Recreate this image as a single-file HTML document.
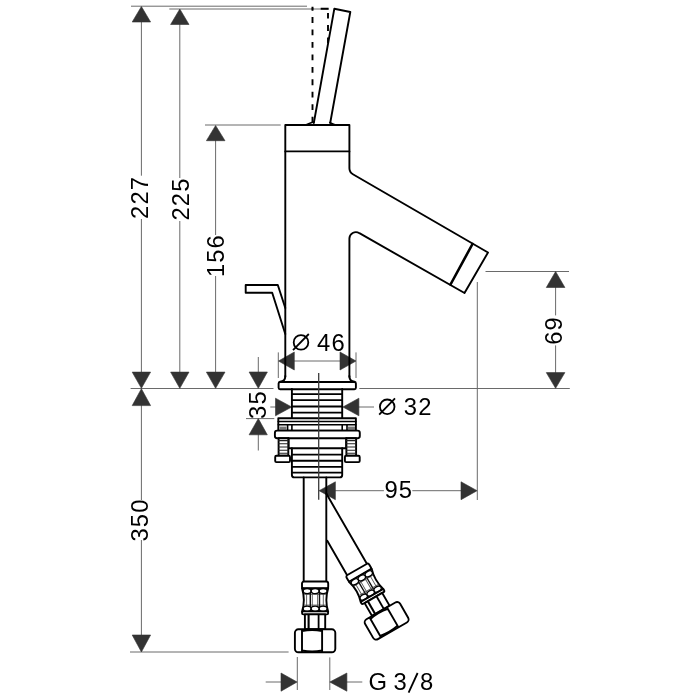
<!DOCTYPE html>
<html><head><meta charset="utf-8"><style>
html,body{margin:0;padding:0;background:#fff;width:700px;height:700px;overflow:hidden}
svg{display:block;filter:grayscale(1)}
.o{stroke:#000;stroke-width:1.9;fill:none;stroke-linejoin:round;stroke-linecap:round}
.of{stroke:#000;stroke-width:1.9;fill:#fff;stroke-linejoin:round}
.d{stroke:#6a6a6a;stroke-width:1;fill:none}
.a{fill:#333;stroke:#333;stroke-width:0.6;stroke-linejoin:miter}
.tx{font-family:"Liberation Sans",sans-serif;font-size:23.8px;fill:#000;letter-spacing:1.1px}
</style></head><body>
<svg width="700" height="700" viewBox="0 0 700 700">
<rect width="700" height="700" fill="#fff"/>
<!-- ===== dimension lines ===== -->
<g class="d">
  <!-- 227 -->
  <line x1="131" y1="6.2" x2="307" y2="6.2"/>
  <line x1="141.4" y1="20" x2="141.4" y2="175.7"/>
  <line x1="141.4" y1="219" x2="141.4" y2="374"/>
  <!-- 225 -->
  <line x1="169.3" y1="9" x2="328.6" y2="9"/>
  <line x1="179.8" y1="22" x2="179.8" y2="178"/>
  <line x1="179.8" y1="221" x2="179.8" y2="374"/>
  <!-- 156 -->
  <line x1="205" y1="125" x2="280.7" y2="125"/>
  <line x1="215.6" y1="138" x2="215.6" y2="235"/>
  <line x1="215.6" y1="276" x2="215.6" y2="374"/>
  <!-- reference line -->
  <line x1="130.6" y1="388.5" x2="273.5" y2="388.5"/>
  <line x1="359.3" y1="388.5" x2="569.8" y2="388.5"/>
  <!-- 350 -->
  <line x1="141.4" y1="403" x2="141.4" y2="500"/>
  <line x1="141.4" y1="540" x2="141.4" y2="637"/>
  <line x1="130" y1="652" x2="288.6" y2="652"/>
  <!-- 35 -->
  <line x1="258.3" y1="357" x2="258.3" y2="374"/>
  <line x1="246" y1="418.6" x2="274.3" y2="418.6"/>
  <line x1="258.3" y1="433" x2="258.3" y2="450.5"/>
  <!-- 46 -->
  <line x1="278.3" y1="352.4" x2="278.3" y2="378"/>
  <line x1="356" y1="352.4" x2="356" y2="378"/>
  <line x1="292" y1="361" x2="342" y2="361"/>
  <!-- 32 -->
  <line x1="270.3" y1="407" x2="277" y2="407"/>
  <line x1="357" y1="407" x2="374" y2="407"/>
  <!-- 69 -->
  <line x1="485.5" y1="271.5" x2="569" y2="271.5"/>
  <line x1="555.6" y1="286" x2="555.6" y2="315.4"/>
  <line x1="555.6" y1="345.4" x2="555.6" y2="374"/>
  <!-- 95 -->
  <line x1="477.3" y1="282" x2="477.3" y2="500"/>
  <line x1="333" y1="490.7" x2="383.9" y2="490.7"/>
  <line x1="412.3" y1="490.7" x2="463" y2="490.7"/>
  <!-- G 3/8 -->
  <line x1="297.3" y1="657" x2="297.3" y2="690"/>
  <line x1="329.8" y1="657.4" x2="329.8" y2="690"/>
  <line x1="265.7" y1="682" x2="283" y2="682"/>
  <line x1="345" y1="682" x2="362.3" y2="682"/>
</g>
<!-- ===== arrowheads ===== -->
<g class="a">
  <!-- up arrows (tip y, base y+16) -->
  <polygon points="141.4,6.5 132.2,22 150.6,22"/>
  <polygon points="179.8,9 170.6,24.5 189,24.5"/>
  <polygon points="215.6,125.5 206.4,140.7 225,140.7"/>
  <polygon points="555.6,271.5 546.3,287.5 564.9,287.5"/>
  <!-- down arrows to ref line -->
  <polygon points="141.4,388.3 132.2,372.1 150.6,372.1"/>
  <polygon points="179.8,388.3 170.6,372.1 189,372.1"/>
  <polygon points="215.6,388.3 206.4,372.1 225,372.1"/>
  <polygon points="258.3,388.3 249.1,372 267.4,372"/>
  <polygon points="555.6,388.3 546.3,372.6 564.9,372.6"/>
  <!-- 350 -->
  <polygon points="141.4,388.7 132.2,405.6 150.6,405.6"/>
  <polygon points="141.4,652 132.2,635 150.6,635"/>
  <!-- 35 lower -->
  <polygon points="258.3,418.6 249.1,434.8 267.3,434.8"/>
  <!-- 46 -->
  <polygon points="278.5,361 294.3,352 294.3,370"/>
  <polygon points="356,361 340,352 340,370"/>
  <!-- 32 -->
  <polygon points="291.7,407 275.5,398.2 275.5,415.8"/>
  <polygon points="342.9,407 358.9,398.2 358.9,415.8"/>
  <!-- 95 -->
  <polygon points="319.1,490.7 335.4,481.8 335.4,499.7"/>
  <polygon points="477.1,490.7 461,481.8 461,499.7"/>
  <!-- G3/8 -->
  <polygon points="297.1,682 281,673 281,691.2"/>
  <polygon points="329.8,682 346.9,673 346.9,691.2"/>
</g>
<!-- ===== texts ===== -->
<g class="tx">
  <text x="139.5" y="205.7" text-anchor="middle" transform="rotate(-90 139.5 197.4)">227</text>
  <text x="180.5" y="207.3" text-anchor="middle" transform="rotate(-90 180.5 199)">225</text>
  <text x="216.2" y="263.9" text-anchor="middle" transform="rotate(-90 216.2 255.6)">156</text>
  <text x="139.5" y="528.3" text-anchor="middle" transform="rotate(-90 139.5 520)">350</text>
  <text x="258.2" y="412.9" text-anchor="middle" transform="rotate(-90 258.2 404.6)">35</text>
  <text x="553.6" y="338.7" text-anchor="middle" transform="rotate(-90 553.6 330.4)">69</text>
  <text x="317.1" y="350.5">46</text>
  <text x="403.8" y="415">32</text>
  <text x="384.5" y="498">95</text>
  <text x="368.5" y="690">G</text><text x="393.5" y="690">3</text><text x="420" y="690">8</text>
</g>

<g stroke="#000" stroke-width="1.8" fill="none">
  <circle cx="301" cy="342.4" r="7.3"/>
  <line x1="293" y1="350.2" x2="308.8" y2="334"/>
  <circle cx="387.2" cy="406.8" r="7.3"/>
  <line x1="379.2" y1="414.6" x2="395" y2="398.4"/>
  <line x1="408.6" y1="692.6" x2="417.6" y2="673"/>
</g>
<!-- ===== faucet outline ===== -->
<g class="o">
  <!-- dashed handle alt -->
  <path d="M312.5,17.1 V123" stroke-dasharray="5.8 6.65" stroke-linecap="butt"/>
  <path d="M312.5,6.8 V10.7 M311.4,8.8 H313.6 M320.7,8.8 H328.6 M328,12.9 V18.6 M328,25 V31 M328,37.5 V43" stroke-linecap="butt"/>
  <!-- handle -->
  <path d="M313.8,123 L334.3,8.8 L350.3,12 L330.2,123"/>
  <path d="M305.7,125 Q311,122.6 314.2,121.8 M329.8,122.5 Q332,123.6 335.5,125" stroke-width="1.5"/>
  <!-- body top cap -->
  <path d="M285.3,377 V125 H349.4 V168.2 A7,7 0 0 0 352.9,174.2 L488,252.5 L464.5,293 L359.4,233.2 A6.5,6.5 0 0 0 349.4,238.9 V377"/>
  <line x1="285.3" y1="151.4" x2="349.4" y2="151.4"/>
  <line x1="472.5" y1="244" x2="450.5" y2="284.5" stroke-width="2.6"/>
  <!-- fillets to flange -->
  <path d="M285.3,376 Q285.3,381.6 280,381.6"/>
  <path d="M349.4,376 Q349.4,381.6 354.6,381.6"/>
  <!-- popup rod -->
  <path d="M285.3,308 L277.8,285 H245.7 V292.8 H272.2 L285.3,334"/>
</g>

<!-- ===== base & hardware ===== -->
<defs>
<g id="hose">
  <rect x="-13.1" y="0" width="26.2" height="7.2" rx="2" class="of"/>
  <path class="of" stroke-width="1.8" d="M-13.1,6.6 Q-9.4,18.4 -13.1,30.2 H13.1 Q9.4,18.4 13.1,6.6 Z"/>
  <path stroke="#555" stroke-width="0.9" fill="none" d="M-8.5,11.5 V25.5 M-2.8,11.5 V25.5 M2.5,11.5 V25.5 M8.2,11.5 V25.5 M-11,12.9 H11 M-11,23.6 H11"/>
  <path stroke="#111" stroke-width="1.4" fill="none" d="M-4.8,11.5 V25.5 M4.4,11.5 V25.5"/>
  <g fill="#fff" stroke="#000" stroke-width="1.3">
    <ellipse cx="-8" cy="9.6" rx="3.9" ry="2.6"/>
    <ellipse cx="8" cy="9.6" rx="3.9" ry="2.6"/>
    <ellipse cx="0" cy="9.6" rx="3.9" ry="2.6"/>
    <ellipse cx="-8" cy="27.3" rx="3.9" ry="2.6"/>
    <ellipse cx="8" cy="27.3" rx="3.9" ry="2.6"/>
    <ellipse cx="0" cy="27.3" rx="3.9" ry="2.6"/>
  </g>
  <rect x="-13.1" y="29.9" width="26.2" height="3" rx="1.5" class="of" stroke-width="1.6"/>
  <rect x="-10.2" y="32.9" width="20.3" height="14.7" class="of"/>
  <path stroke="#000" fill="none" d="M-6.5,33.5 V47.6" stroke-width="2.1"/>
  <path stroke="#000" fill="none" d="M3.5,33.5 V47.6" stroke-width="1.8"/>
  <rect x="-20.2" y="47.8" width="40.4" height="23" rx="3.5" class="of"/>
  <path class="o" d="M-13.1,48.5 V70 M7,48.5 V70 M-13.1,49.6 Q-3,47.6 7,49.6 M-13.1,69 Q-3,71 7,69" stroke-width="1.6"/>
</g>
</defs>
<g class="o">
  <!-- flange -->
  <rect x="278.6" y="382" width="77.3" height="7.2" rx="1.5" class="of"/>
  <!-- upper thread -->
  <path d="M291.9,388.9 V418.3 M342.2,388.9 V418.3 M291.9,394.1 H342.2 M291.9,400.1 H342.2 M291.9,406.5 H342.2 M291.9,412.6 H342.2"/>
  <!-- washer stack -->
  <rect x="278.3" y="418.3" width="77.6" height="12.3" class="of"/>
  <path d="M278.3,421.5 H355.9 M278.3,424.7 H355.9 M291.9,424.7 V430.6 M342.2,424.7 V430.6 M287.6,424.7 V430.6 M347,424.7 V430.6" stroke-width="1.6"/>
  <rect x="279.5" y="426.6" width="7" height="3.2" fill="#777" stroke="none"/>
  <rect x="348" y="426.6" width="7" height="3.2" fill="#777" stroke="none"/>
  <!-- plate -->
  <rect x="274.9" y="430.6" width="84.9" height="7.6" rx="2.2" class="of"/>
  <!-- middle under plate -->
  <path d="M288.6,438.2 V448.2 H346.2 V438.2"/>
  <!-- screws -->
  <rect x="278.6" y="438.2" width="9.7" height="17.5" class="of"/>
  <rect x="346.4" y="438.2" width="9.7" height="17.5" class="of"/>
  <path stroke-width="1.1" stroke="#222" d="M278.6,440.6 H288.3 M278.6,443.8 H288.3 M278.6,447 H288.3 M278.6,450.2 H288.3 M278.6,453.3 H288.3 M346.4,440.6 H356.1 M346.4,443.8 H356.1 M346.4,447 H356.1 M346.4,450.2 H356.1 M346.4,453.3 H356.1"/>
  <!-- feet -->
  <rect x="275.2" y="455.7" width="14.8" height="6.4" rx="1.2" class="of"/>
  <rect x="344.9" y="455.7" width="14.8" height="6.4" rx="1.2" class="of"/>
  <!-- lower thread -->
  <path d="M291.9,448.2 V475 Q291.9,477.4 294.3,477.4 H339.8 Q342.2,477.4 342.2,475 V448.2 M291.9,454.6 H342.2 M291.9,460.7 H342.2 M291.9,466.9 H342.2 M291.9,472.6 H342.2"/>
  <!-- hoses -->
  <path d="M303.7,477.4 V581.5 M326.3,477.4 V581.5"/>
</g>
<g transform="translate(315.1 581.5)"><use href="#hose"/></g>
<line x1="318.7" y1="372.9" x2="318.7" y2="499.7" stroke="#3a3a3a" stroke-width="1.3"/>
<g transform="translate(357 569.5) rotate(-30)">
  <path class="o" d="M11.4,-81.1 V0 M-11.4,-39.7 V0"/>
  <use href="#hose"/>
</g>
</svg>
</body></html>
